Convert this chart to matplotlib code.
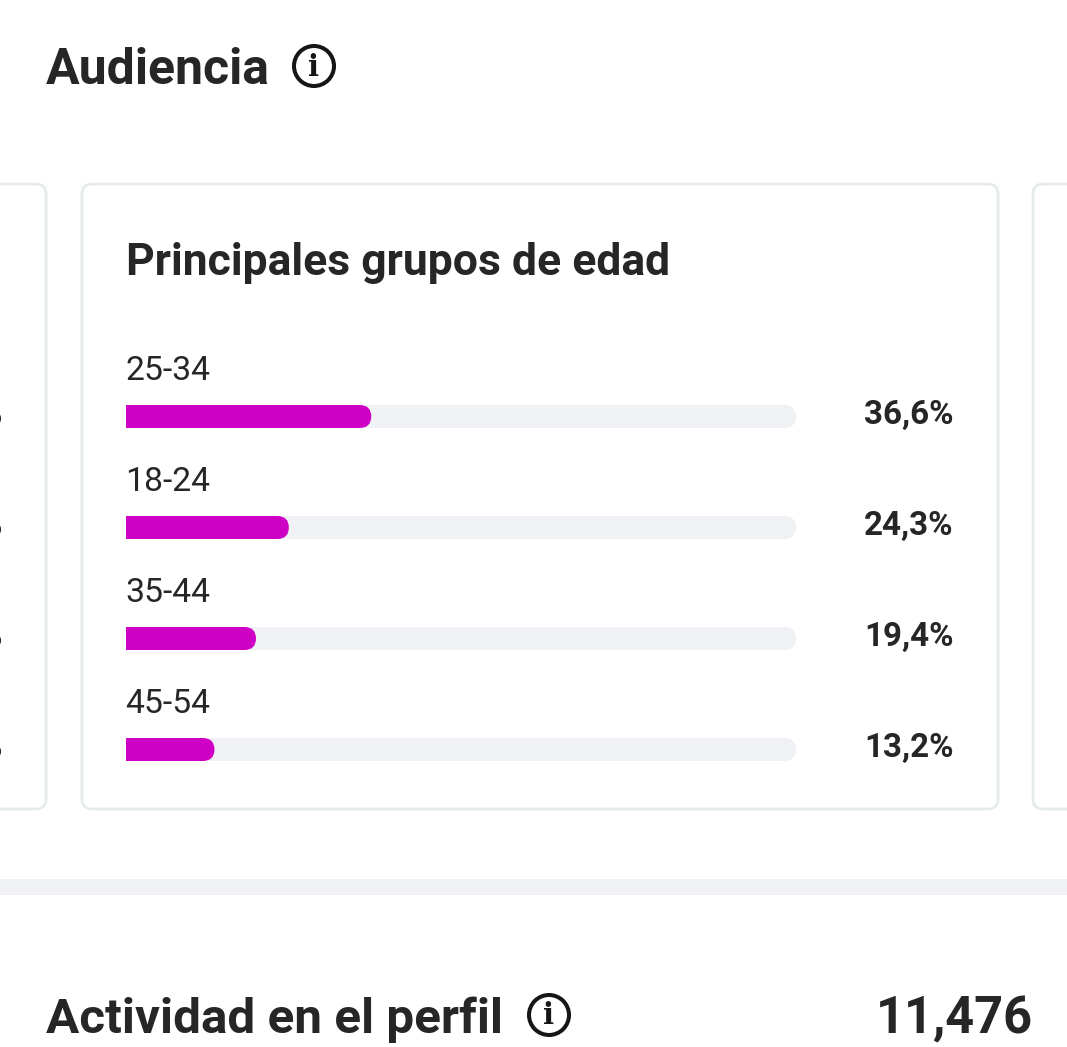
import matplotlib
matplotlib.use("Agg")
import matplotlib.pyplot as plt
from matplotlib.patches import Circle, FancyBboxPatch, PathPatch, Rectangle
from matplotlib.path import Path

# Data
age_groups = ["25-34", "18-24", "35-44", "45-54"]
shares = [36.6, 24.3, 19.4, 13.2]
heading = "Audiencia"
card_title = "Principales grupos de edad"
footer_label = "Actividad en el perfil"
footer_value = "11,476"

# Style
W, H = 1067, 1047
INK = "#262626"
MAGENTA = "#CF00C6"
TRACK = "#F0F1F5"
BORDER = "#E6EBED"
FONT = "Roboto"

plt.rcParams["font.family"] = [FONT, "DejaVu Sans"]
fig = plt.figure(figsize=(W / 100, H / 100), dpi=100, facecolor="white")

# Page layer in pixel coordinates
page = fig.add_axes([0, 0, 1, 1])
page.set_xlim(0, W)
page.set_ylim(H, 0)
page.axis("off")


def card(x0, x1, y0=184, y1=809):
    page.add_patch(FancyBboxPatch(
        (x0 + 10, y0 + 10), x1 - x0 - 20, y1 - y0 - 20,
        boxstyle="round,pad=10,rounding_size=10",
        fc="white", ec=BORDER, lw=2.0, zorder=1))


card(-60, 46)
card(82, 998)
card(1033, 1140)

page.add_patch(Rectangle((0, 879), W, 16, fc=TRACK, ec="none", zorder=1))


def info_icon(cx, cy):
    page.add_patch(Circle((cx, cy), 20, fc="white", ec="#161616", lw=2.9, zorder=3))
    page.text(cx, cy + 1, "i", family=["DejaVu Serif"], weight="bold", fontsize=21,
              color="#161616", ha="center", va="center", zorder=4)


page.text(45.5, 84, heading, fontsize=36, weight="bold", color=INK, va="baseline")
info_icon(314, 66)
page.text(126, 275, card_title, fontsize=32, weight="bold", color=INK, va="baseline")
page.text(45.5, 1033, footer_label, fontsize=35.6, weight="bold", color=INK, va="baseline")
info_icon(549, 1015)
page.text(1033, 1033, footer_value, fontsize=36.4, weight="bold", color=INK,
          ha="right", va="baseline")

# Bars: 0-100 % across the 670 px track, one 111 px row per age group
ax_left, ax_right, ax_top, ax_bottom = 126, 796, 361, 805
ax = fig.add_axes([ax_left / W, 1 - ax_bottom / H,
                   (ax_right - ax_left) / W, (ax_bottom - ax_top) / H])
ax.set_xlim(0, 100)
ax.set_ylim(len(age_groups) - 0.5, -0.5)
ax.axis("off")
ax.patch.set_alpha(0)

PX_X = 100 / (ax_right - ax_left)
ROW_PX = (ax_bottom - ax_top) / len(age_groups)
BAR_H = 23 / ROW_PX
RX = 11.5 * PX_X


def rounded_bar(y, value, color, round_left, z):
    top, bottom, mid = y - BAR_H / 2, y + BAR_H / 2, y
    verts = [(value - RX, top), (value, top), (value, mid), (value, bottom), (value - RX, bottom)]
    codes = [Path.MOVETO, Path.CURVE3, Path.CURVE3, Path.CURVE3, Path.CURVE3]
    if round_left:
        verts += [(RX, bottom), (0, bottom), (0, mid), (0, top), (RX, top)]
        codes += [Path.LINETO, Path.CURVE3, Path.CURVE3, Path.CURVE3, Path.CURVE3]
    else:
        verts += [(0, bottom), (0, top), (value - RX, top)]
        codes += [Path.LINETO, Path.LINETO, Path.LINETO]
    verts.append(verts[0])
    codes.append(Path.CLOSEPOLY)
    ax.add_patch(PathPatch(Path(verts, codes), fc=color, ec="none", zorder=z))


pct_x = (953.5 - ax_left) / (ax_right - ax_left)
trans = ax.get_yaxis_transform()
for i, (group, share) in enumerate(zip(age_groups, shares)):
    rounded_bar(i, 100, TRACK, True, 2)
    rounded_bar(i, share, MAGENTA, False, 3)
    ax.text(-0.1, i - 36.5 / ROW_PX, group, fontsize=24.3, color=INK, va="baseline", clip_on=False)
    ax.text(pct_x, i + 7.5 / ROW_PX, f"{share:.1f}".replace(".", ",") + "%", transform=trans,
            fontsize=23.9, weight="bold", color=INK, ha="right", va="baseline", clip_on=False)
    # Percent sign of the neighbouring card, cut off by the left edge of the picture
    ax.text(-124 * PX_X, i + 7.5 / ROW_PX, "%", fontsize=23.9, weight="bold", color=INK,
            ha="right", va="baseline", clip_on=False)

fig.savefig("out.png", dpi=100, facecolor="white")
